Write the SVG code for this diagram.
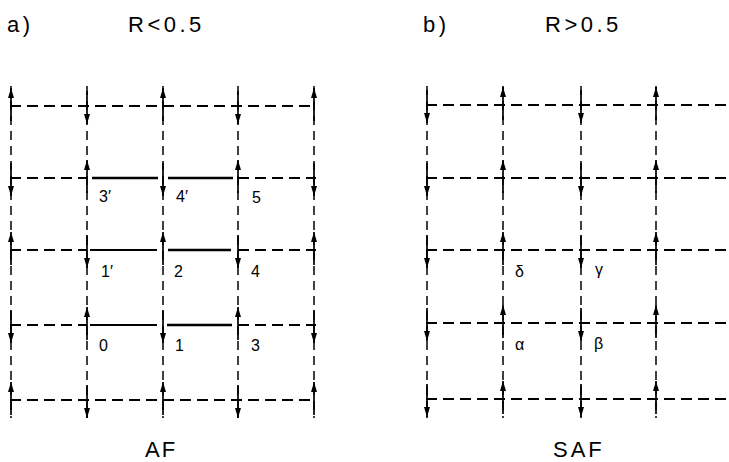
<svg xmlns="http://www.w3.org/2000/svg" width="729" height="462" viewBox="0 0 729 462">
<style>
.bg{fill:#fff}
.dh{stroke:#000;stroke-width:2;stroke-dasharray:11 6;fill:none}
.dv{stroke:#000;stroke-width:1.5;stroke-dasharray:9 6;fill:none}
.bond{stroke:#000;stroke-width:2.6;fill:none}
.bondt{stroke:#000;stroke-width:2;fill:none}
.spin line{stroke:#000;stroke-width:1.7;marker-end:url(#ah)}
.t{font-family:"Liberation Sans",Arial,sans-serif;fill:#000}
.h{font-size:22px;letter-spacing:3.5px}
.s{font-size:16px}
</style>
<defs>
<marker id="ah" viewBox="0 0 10 6" refX="10" refY="3" markerWidth="11" markerHeight="6" markerUnits="userSpaceOnUse" orient="auto">
<path d="M0,0 L10,3 L0,6 z" fill="#000"/>
</marker>
</defs>
<rect class="bg" x="0" y="0" width="729" height="462"/>

<g id="titles">
<text class="t h" x="7" y="32">a)</text>
<text class="t h" x="128" y="32">R&lt;0.5</text>
<text class="t h" x="423" y="32">b)</text>
<text class="t h" x="545" y="32">R&gt;0.5</text>
<text class="t h" x="145" y="457" style="letter-spacing:2px">AF</text>
<text class="t h" x="553" y="457" style="letter-spacing:3px">SAF</text>
</g>

<g id="connectors">
<line class="dh" x1="10" y1="106" x2="316" y2="106"/>
<line class="dh" x1="10" y1="178" x2="87" y2="178"/>
<line class="bond" x1="92" y1="178" x2="158" y2="178"/>
<line class="bond" x1="168" y1="178" x2="233" y2="178"/>
<line class="dh" x1="238" y1="178" x2="316" y2="178"/>
<line class="dh" x1="10" y1="250" x2="87" y2="250"/>
<line class="bondt" x1="90" y1="250" x2="157" y2="250"/>
<line class="bond" x1="168" y1="250" x2="231" y2="250"/>
<line class="dh" x1="238" y1="250" x2="316" y2="250"/>
<line class="dh" x1="10" y1="325" x2="87" y2="325"/>
<line class="bondt" x1="90" y1="325" x2="157" y2="325"/>
<line class="bond" x1="167" y1="325" x2="232" y2="325"/>
<line class="dh" x1="238" y1="325" x2="316" y2="325"/>
<line class="dh" x1="10" y1="400" x2="316" y2="400"/>
<line class="dv" x1="11" y1="86" x2="11" y2="418"/>
<line class="dv" x1="87" y1="86" x2="87" y2="418"/>
<line class="dv" x1="163" y1="86" x2="163" y2="418"/>
<line class="dv" x1="238" y1="86" x2="238" y2="418"/>
<line class="dv" x1="314" y1="86" x2="314" y2="418"/>
<line class="dh" x1="426" y1="105" x2="729" y2="105"/>
<line class="dh" x1="426" y1="178" x2="729" y2="178"/>
<line class="dh" x1="426" y1="250" x2="729" y2="250"/>
<line class="dh" x1="426" y1="323" x2="729" y2="323"/>
<line class="dh" x1="426" y1="399" x2="729" y2="399"/>
<line class="dv" x1="427" y1="86" x2="427" y2="418"/>
<line class="dv" x1="503" y1="86" x2="503" y2="418"/>
<line class="dv" x1="581" y1="86" x2="581" y2="418"/>
<line class="dv" x1="656" y1="86" x2="656" y2="418"/>
</g>

<g id="spins-AF" class="spin">
<g id="a00"><line x1="11" y1="121" x2="11" y2="88"/></g>
<g id="a10"><line x1="87" y1="91" x2="87" y2="124"/></g>
<g id="a20"><line x1="163" y1="121" x2="163" y2="88"/></g>
<g id="a30"><line x1="238" y1="91" x2="238" y2="124"/></g>
<g id="a40"><line x1="314" y1="121" x2="314" y2="88"/></g>
<g id="a01"><line x1="11" y1="163" x2="11" y2="196"/></g>
<g id="a11"><line x1="87" y1="193" x2="87" y2="160"/></g>
<g id="a21"><line x1="163" y1="163" x2="163" y2="196"/></g>
<g id="a31"><line x1="238" y1="193" x2="238" y2="160"/></g>
<g id="a41"><line x1="314" y1="163" x2="314" y2="196"/></g>
<g id="a02"><line x1="11" y1="265" x2="11" y2="232"/></g>
<g id="a12"><line x1="87" y1="235" x2="87" y2="268"/></g>
<g id="a22"><line x1="163" y1="265" x2="163" y2="232"/></g>
<g id="a32"><line x1="238" y1="235" x2="238" y2="268"/></g>
<g id="a42"><line x1="314" y1="265" x2="314" y2="232"/></g>
<g id="a03"><line x1="11" y1="310" x2="11" y2="343"/></g>
<g id="a13"><line x1="87" y1="340" x2="87" y2="307"/></g>
<g id="a23"><line x1="163" y1="310" x2="163" y2="343"/></g>
<g id="a33"><line x1="238" y1="340" x2="238" y2="307"/></g>
<g id="a43"><line x1="314" y1="310" x2="314" y2="343"/></g>
<g id="a04"><line x1="11" y1="415" x2="11" y2="382"/></g>
<g id="a14"><line x1="87" y1="385" x2="87" y2="418"/></g>
<g id="a24"><line x1="163" y1="415" x2="163" y2="382"/></g>
<g id="a34"><line x1="238" y1="385" x2="238" y2="418"/></g>
<g id="a44"><line x1="314" y1="415" x2="314" y2="382"/></g>
</g>

<g id="spins-SAF" class="spin">
<g id="b00"><line x1="427" y1="90" x2="427" y2="123"/></g>
<g id="b01"><line x1="427" y1="163" x2="427" y2="196"/></g>
<g id="b02"><line x1="427" y1="235" x2="427" y2="268"/></g>
<g id="b03"><line x1="427" y1="308" x2="427" y2="341"/></g>
<g id="b04"><line x1="427" y1="384" x2="427" y2="417"/></g>
<g id="b10"><line x1="503" y1="120" x2="503" y2="87"/></g>
<g id="b11"><line x1="503" y1="193" x2="503" y2="160"/></g>
<g id="b12"><line x1="503" y1="265" x2="503" y2="232"/></g>
<g id="b13"><line x1="503" y1="338" x2="503" y2="305"/></g>
<g id="b14"><line x1="503" y1="414" x2="503" y2="381"/></g>
<g id="b20"><line x1="581" y1="90" x2="581" y2="123"/></g>
<g id="b21"><line x1="581" y1="163" x2="581" y2="196"/></g>
<g id="b22"><line x1="581" y1="235" x2="581" y2="268"/></g>
<g id="b23"><line x1="581" y1="308" x2="581" y2="341"/></g>
<g id="b24"><line x1="581" y1="384" x2="581" y2="417"/></g>
<g id="b30"><line x1="656" y1="120" x2="656" y2="87"/></g>
<g id="b31"><line x1="656" y1="193" x2="656" y2="160"/></g>
<g id="b32"><line x1="656" y1="265" x2="656" y2="232"/></g>
<g id="b33"><line x1="656" y1="338" x2="656" y2="305"/></g>
<g id="b34"><line x1="656" y1="414" x2="656" y2="381"/></g>
</g>

<g id="labels-AF">
<g id="l3p"><text class="t s" x="99" y="202">3′</text></g>
<g id="l4p"><text class="t s" x="176" y="202">4′</text></g>
<g id="l5"><text class="t s" x="252" y="203">5</text></g>
<g id="l1p"><text class="t s" x="101" y="277">1′</text></g>
<g id="l2"><text class="t s" x="174" y="277">2</text></g>
<g id="l4"><text class="t s" x="251" y="277">4</text></g>
<g id="l0"><text class="t s" x="99" y="351">0</text></g>
<g id="l1"><text class="t s" x="175" y="351">1</text></g>
<g id="l3"><text class="t s" x="251" y="351">3</text></g>
</g>

<g id="labels-SAF">
<g id="ldelta"><text class="t s" x="515" y="277">δ</text></g>
<g id="lgamma"><text class="t s" x="595" y="275">γ</text></g>
<g id="lalpha"><text class="t s" x="515" y="350">α</text></g>
<g id="lbeta"><text class="t s" x="594" y="349">β</text></g>
</g>
</svg>
